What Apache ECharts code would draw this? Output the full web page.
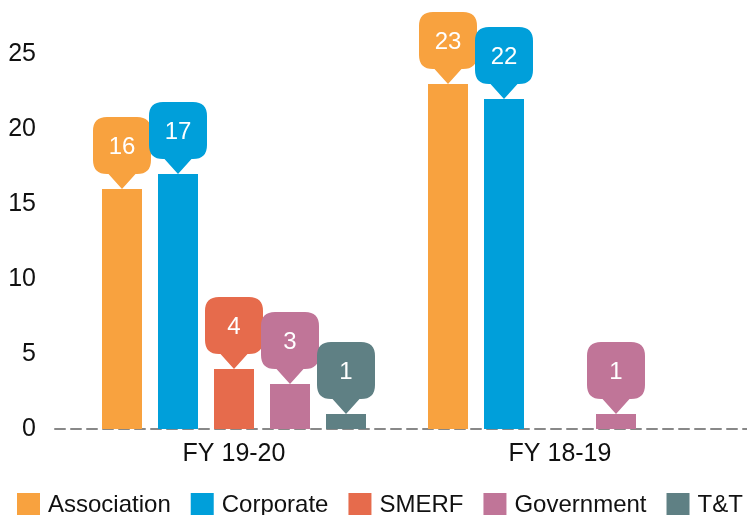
<!DOCTYPE html>
<html>
<head>
<meta charset="utf-8">
<script src="https://cdn.jsdelivr.net/npm/echarts@6/dist/echarts.min.js"></script>
<style>html,body{margin:0;padding:0;background:#fff}#c{width:747px;height:515px}</style>
</head>
<body>
<div id="c"></div>
<script>
const categories = ['FY 19-20', 'FY 18-19'];
const seriesNames = ['Association', 'Corporate', 'SMERF', 'Government', 'T&T'];
const association = [16, 23];
const corporate = [17, 22];
const smerf = [4, null];
const government = [3, 1];
const tt = [1, null];
const yTicks = [0, 5, 10, 15, 20, 25];

const colors = ['#F8A23F', '#009FDA', '#E66B4C', '#C07598', '#5F8084'];
const values = [association, corporate, smerf, government, tt];

const bubblePath = 'path://M14,0 H44 Q58,0 58,14 V43 Q58,57 44,57 H42.5 L29,72 L15.5,57 H14 Q0,57 0,43 V14 Q0,0 14,0 Z';
const FONT = '"Liberation Sans", Arial, sans-serif';

const series = seriesNames.map((name, s) => ({
  name: name,
  type: 'bar',
  barWidth: 40,
  barGap: '40%',
  itemStyle: { color: colors[s] },
  data: values[s].map(v => v === null ? '-' : v),
  markPoint: {
    symbol: bubblePath,
    symbolSize: [58, 72],
    symbolOffset: [0, -36],
    symbolKeepAspect: false,
    itemStyle: { color: colors[s] },
    label: {
      show: true,
      position: 'inside',
      offset: [0, -6],
      color: '#fff',
      fontSize: 24,
      fontFamily: FONT,
      formatter: p => String(p.value)
    },
    data: values[s].map((v, i) => v === null ? null : { coord: [categories[i], v], value: v }).filter(d => d)
  }
}));

const chart = echarts.init(document.getElementById('c'), null, { renderer: 'canvas' });
chart.setOption({
  animation: false,
  color: colors,
  textStyle: { fontFamily: FONT },
  grid: [
    { left: 71, right: 24, top: 54, bottom: 86 },
    { left: 55, right: 0, top: 54, bottom: 86 }
  ],
  legend: {
    left: 17,
    top: 493,
    width: 730,
    padding: 0,
    itemWidth: 23,
    itemHeight: 24,
    itemGap: 20,
    icon: 'rect',
    textStyle: { fontSize: 24, color: '#111', fontFamily: FONT, padding: [0, 0, 0, 3] },
    data: seriesNames
  },
  xAxis: [
    {
      type: 'category',
      data: categories,
      gridIndex: 0,
      axisLine: { show: false },
      axisTick: { show: false },
      axisLabel: { color: '#111', fontSize: 25, margin: 13, fontFamily: FONT }
    },
    {
      type: 'value',
      gridIndex: 1,
      min: 0, max: 1,
      axisLine: { show: true, lineStyle: { color: '#888', width: 2, type: [10, 6] } },
      axisTick: { show: false },
      axisLabel: { show: false },
      splitLine: { show: false }
    }
  ],
  yAxis: [
    {
      type: 'value',
      gridIndex: 0,
      min: yTicks[0],
      max: yTicks[yTicks.length - 1],
      interval: 5,
      axisLine: { show: false },
      axisTick: { show: false },
      splitLine: { show: false },
      axisLabel: { color: '#111', fontSize: 25, margin: 35, fontFamily: FONT }
    },
    {
      type: 'value',
      gridIndex: 1,
      show: false,
      min: 0, max: 1
    }
  ],
  series: series
});
</script>
</body>
</html>
